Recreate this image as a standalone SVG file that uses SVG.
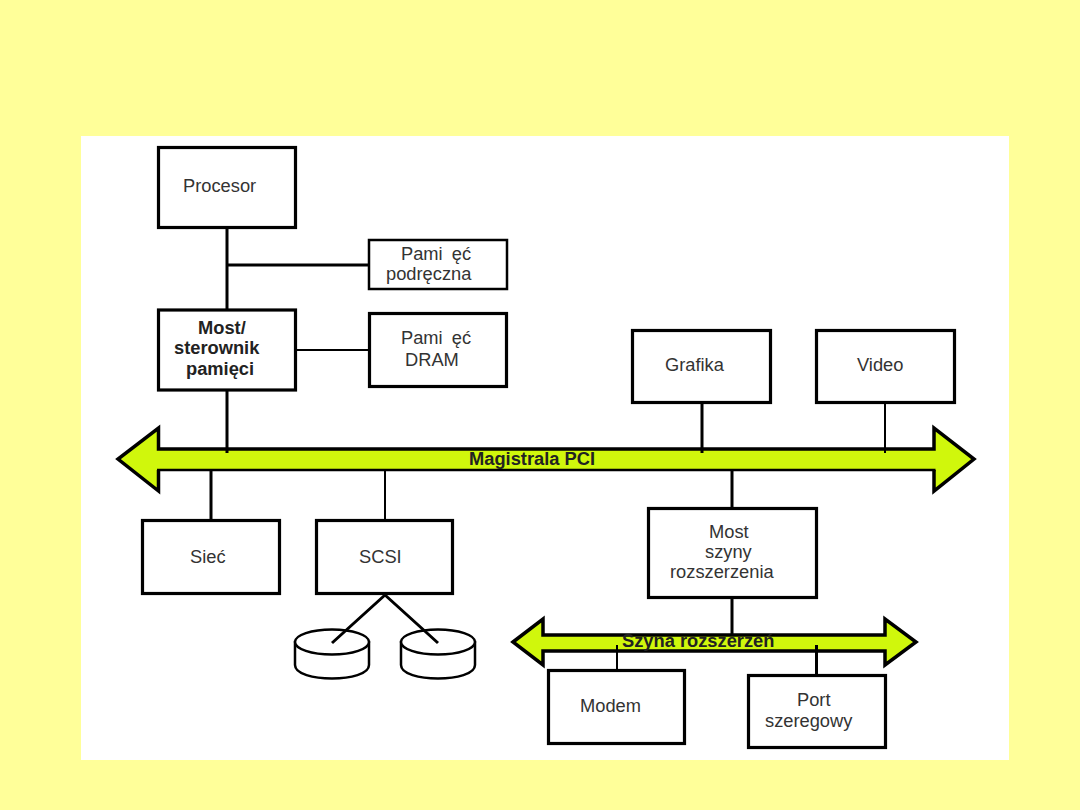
<svg xmlns="http://www.w3.org/2000/svg" width="1080" height="810" viewBox="0 0 1080 810">
  <style>
    .box { fill: #fff; stroke: #000; stroke-width: 3.2; }
    .box-thin { fill: #fff; stroke: #000; stroke-width: 2.5; }
    .bus { fill: #d0f70c; stroke: #000; stroke-width: 3.5; stroke-linejoin: miter; }
    .bus-fill { fill: #d0f70c; }
    .bus-edge { fill: none; stroke: #000; stroke-width: 3.5; }
    .bus-edge-thin { fill: none; stroke: #000; stroke-width: 2.5; }
    .wire { stroke: #000; stroke-width: 3; fill: none; }
    .wire-thin { stroke: #000; stroke-width: 2; fill: none; }
    .disk { fill: #fff; stroke: #000; stroke-width: 2.5; }
    text { font-family: "Liberation Sans", Arial, sans-serif; font-size: 18.300px; fill: #333; }
    .bold { font-weight: bold; fill: #222; }
    .gap { word-spacing: 4px; }
  </style>

  <rect width="1080" height="810" fill="#ffff99"/>
  <rect x="81" y="136" width="928" height="624" fill="#fff"/>

  <!-- Buses sit under the stubs that reach into them -->
  <g id="bus-pci">
    <polygon class="bus-fill" points="118,459 158.500,428 158.500,449 934,449 934,428 974,459 934,491 934,470 158.500,470 158.500,491"/>
    <path class="bus-edge" d="M158.500 470V491L118 459L158.500 428V449H934V428L974 459L934 491V470"/>
    <path class="bus-edge-thin" d="M157 470H935.500"/>
  </g>
  <g id="bus-rozszerzen">
    <polygon class="bus" points="513,642 543,619 543,635 885,635 885,619 916,642 885,665 885,651 543,651 543,665"/>
  </g>

  <g id="connectors">
    <path class="wire" d="M227 228V309M227 391V453M227 265H369M211 471V520M702 403V453M732 471V508M732 598V636M816.500 645V675"/>
    <path class="wire-thin" d="M296 350H369M385 471V520M885 403V453M617 645V670"/>
  </g>

  <g id="disk-1">
    <path class="disk" d="M295 642V665C295 683 369 683 369 665V642Z"/>
    <ellipse class="disk" cx="332" cy="642" rx="37" ry="12.500"/>
  </g>
  <g id="disk-2">
    <path class="disk" d="M401 642V665C401 683 475 683 475 665V642Z"/>
    <ellipse class="disk" cx="438" cy="642" rx="37" ry="12.500"/>
  </g>
  <g id="scsi-links">
    <path class="wire" d="M385 595L332 643M385 595L438 643"/>
  </g>

  <g id="procesor">
    <rect class="box" x="158.500" y="147.500" width="137" height="80"/>
    <text x="183" y="192">Procesor</text>
  </g>
  <g id="pamiec-podreczna">
    <rect class="box-thin" x="369" y="240" width="138" height="49"/>
    <text class="gap" x="401" y="260">Pami ęć</text>
    <text x="386" y="280">podręczna</text>
  </g>
  <g id="most-sterownik">
    <rect class="box" x="158.500" y="310" width="137" height="80"/>
    <text class="bold" x="198" y="334">Most/</text>
    <text class="bold" x="174" y="354">sterownik</text>
    <text class="bold" x="186" y="375">pamięci</text>
  </g>
  <g id="pamiec-dram">
    <rect class="box" x="369.500" y="313.500" width="137" height="73"/>
    <text class="gap" x="401" y="344">Pami ęć</text>
    <text x="405" y="366">DRAM</text>
  </g>
  <g id="grafika">
    <rect class="box" x="632.500" y="330.500" width="138" height="72"/>
    <text x="665" y="371">Grafika</text>
  </g>
  <g id="video">
    <rect class="box" x="816.500" y="330.500" width="138" height="72"/>
    <text x="857" y="371">Video</text>
  </g>
  <g id="siec">
    <rect class="box" x="142.500" y="520.500" width="137" height="73"/>
    <text x="190" y="563">Sieć</text>
  </g>
  <g id="scsi">
    <rect class="box" x="316.500" y="520.500" width="136" height="73"/>
    <text x="359" y="563">SCSI</text>
  </g>
  <g id="most-szyny">
    <rect class="box" x="648.500" y="508.500" width="168" height="89"/>
    <text x="709" y="538">Most</text>
    <text x="705" y="558">szyny</text>
    <text x="670" y="578">rozszerzenia</text>
  </g>
  <g id="modem">
    <rect class="box" x="548.500" y="670.500" width="136" height="73"/>
    <text x="580" y="712">Modem</text>
  </g>
  <g id="port">
    <rect class="box" x="748.500" y="675.500" width="137" height="72"/>
    <text x="797" y="706">Port</text>
    <text x="765" y="727">szeregowy</text>
  </g>

  <g id="bus-labels">
    <text class="bold" x="469" y="465">Magistrala PCI</text>
    <text class="bold" x="622" y="647">Szyna rozszerzeń</text>
  </g>
</svg>
